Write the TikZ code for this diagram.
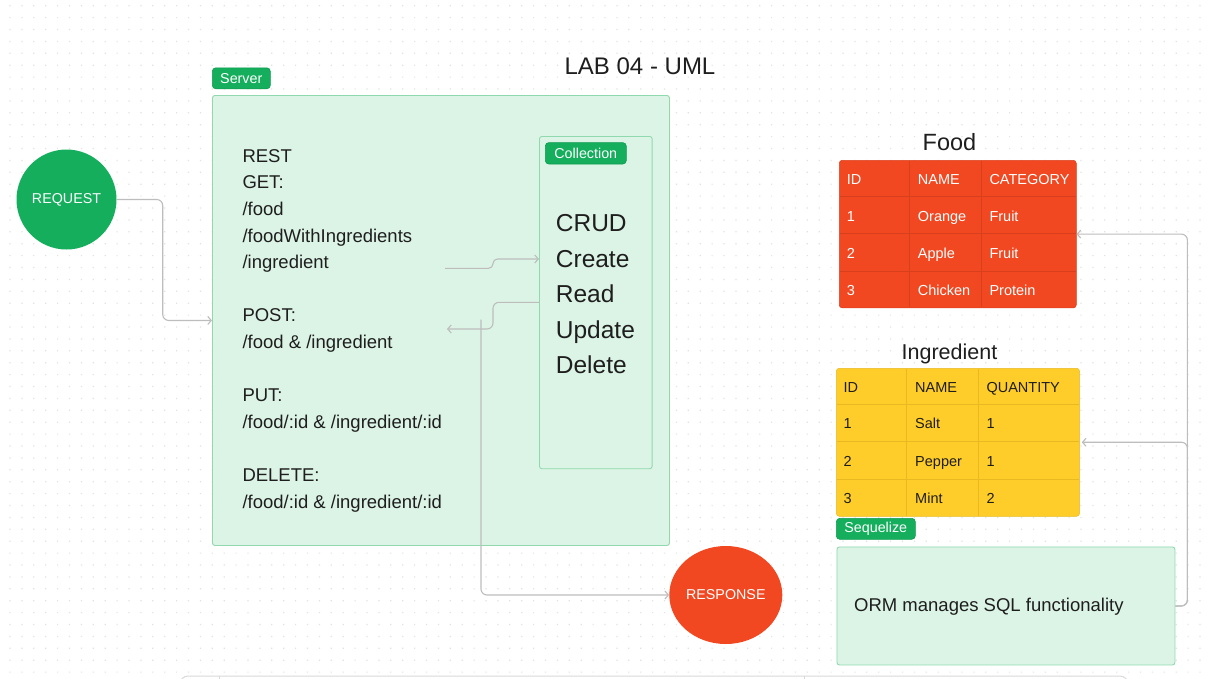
\documentclass[tikz,border=0pt]{standalone}
\usepackage{fontspec}
\setmainfont{Liberation Sans}
\usetikzlibrary{arrows.meta,calc,shapes.geometric}
\definecolor{tagGreen}{HTML}{14AE5C}
\definecolor{tagEdge}{HTML}{109A50}
\definecolor{mint}{HTML}{DCF4E6}
\definecolor{mintBorder}{HTML}{90D8AE}
\definecolor{redFill}{HTML}{F24822}
\definecolor{redLine}{HTML}{D83F1D}
\definecolor{yellowFill}{HTML}{FFCD29}
\definecolor{yellowLine}{HTML}{E9B922}
\definecolor{connGrey}{HTML}{BDBDBD}
\definecolor{ink}{HTML}{1E1E1E}
\definecolor{dotGrey}{HTML}{E2E2E2}
\definecolor{frameGrey}{HTML}{DADADA}
\begin{document}
\begin{tikzpicture}[x=1pt,y=-1pt,
  tag/.style={fill=tagGreen, draw=tagEdge, line width=0.6pt, rounded corners=3.5pt, text=white,
    font=\fontsize{14.3}{14.3}\selectfont, inner sep=0pt, anchor=north west},
  panel/.style={fill=mint, draw=mintBorder, line width=0.9pt, rounded corners=2.5pt, inner sep=0pt, anchor=north west},
  txt/.style={font=\fontsize{18.5}{18.5}\selectfont, text=ink, inner sep=0pt, anchor=base west},
  crud/.style={font=\fontsize{24.5}{24.5}\selectfont, text=ink, inner sep=0pt, anchor=base west},
  cellw/.style={font=\fontsize{14.5}{14.5}\selectfont, text=white, inner sep=0pt, anchor=base west},
  celld/.style={font=\fontsize{14.5}{14.5}\selectfont, text=ink, inner sep=0pt, anchor=base west},
  conn/.style={draw=connGrey, line width=1.1pt, rounded corners=6pt},
  arr/.style={-{Straight Barb[length=3.5pt,width=8pt]}},
  bubble/.style={fill, text=white, font=\fontsize{14.3}{14.3}\selectfont, inner sep=0pt}
]
\useasboundingbox (0,0) rectangle (1210,678);
\clip (0,0) rectangle (1210,678);
\fill[white] (0,0) rectangle (1210,678);
% dot grid
\foreach \j in {0,...,56} {
  \fill[dotGrey] \foreach \i in {0,...,101} { (9.4+11.9*\i,5.1+11.9*\j) rectangle ++(1.2,1.2) };
}

% bottom partial frame
\draw[frameGrey, line width=1pt, fill=white, rounded corners=8pt] (180,676) rectangle (1128,720);
\draw[frameGrey, line width=0.8pt] (219,676) -- (219,690);
\draw[frameGrey, line width=0.8pt] (804,676) -- (804,690);

% title
\node[font=\fontsize{24}{24}\selectfont, text=ink, inner sep=0pt, anchor=base] (title) at (640,74.5) {LAB 04 - UML};

% server
\node[panel, minimum width=457pt, minimum height=450pt] (server) at (212,95) {};
\node[tag, minimum width=58pt, minimum height=21pt] (servertag) at (212,67.5) {Server};

\node[txt] (l1) at (242.3,162) {REST};
\node[txt] (l2) at (242.3,188.7) {GET:};
\node[txt] (l3) at (242.3,215.3) {/food};
\node[txt] (l4) at (242.3,242) {/foodWithIngredients};
\node[txt] (l5) at (242.3,268.6) {/ingredient};
\node[txt] (l6) at (242.3,321.9) {POST:};
\node[txt] (l7) at (242.3,348.6) {/food \& /ingredient};
\node[txt] (l8) at (242.3,401.9) {PUT:};
\node[txt] (l9) at (242.3,428.5) {/food/:id \& /ingredient/:id};
\node[txt] (l10) at (242.3,481.8) {DELETE:};
\node[txt] (l11) at (242.3,508.5) {/food/:id \& /ingredient/:id};

% collection
\node[panel, minimum width=112.7pt, minimum height=332.3pt] (coll) at (539,136) {};
\node[tag, minimum width=81pt, minimum height=21.4pt] (colltag) at (545,142.3) {Collection};
\node[crud] (c1) at (555.7,231.3) {CRUD};
\node[crud] (c2) at (555.7,267) {Create};
\node[crud] (c3) at (555.7,302.5) {Read};
\node[crud] (c4) at (555.7,338) {Update};
\node[crud] (c5) at (555.7,373.5) {Delete};

% request / response
\node[bubble, circle, fill=tagGreen, minimum size=100pt] (req) at (66.5,199.5) {REQUEST};
\node[bubble, ellipse, fill=redFill, minimum width=113pt, minimum height=98pt] (resp) at (725.8,595) {RESPONSE};

% food table
\node[font=\fontsize{23.5}{23.5}\selectfont, text=ink, inner sep=0pt, anchor=base] (foodtitle) at (949.5,150.4) {Food};
\node[fill=redFill, draw=redLine, line width=0.5pt, rounded corners=3pt, inner sep=0pt, anchor=north west,
      minimum width=237pt, minimum height=147.7pt] (foodtab) at (839,160) {};
\draw[redLine, line width=0.8pt] (909.3,160.5) -- (909.3,307.2) (981.3,160.5) -- (981.3,307.2)
  (839.5,196.7) -- (1075.5,196.7) (839.5,233.7) -- (1075.5,233.7) (839.5,271.3) -- (1075.5,271.3);
\node[cellw] (f11) at (846.7,184) {ID};
\node[cellw] (f12) at (917.7,184) {NAME};
\node[cellw] (f13) at (989.3,184) {CATEGORY};
\node[cellw] (f21) at (846.7,221) {1};
\node[cellw] (f22) at (917.7,221) {Orange};
\node[cellw] (f23) at (989.3,221) {Fruit};
\node[cellw] (f31) at (846.7,258.2) {2};
\node[cellw] (f32) at (917.7,258.2) {Apple};
\node[cellw] (f33) at (989.3,258.2) {Fruit};
\node[cellw] (f41) at (846.7,295.2) {3};
\node[cellw] (f42) at (917.7,295.2) {Chicken};
\node[cellw] (f43) at (989.3,295.2) {Protein};

% ingredient table
\node[font=\fontsize{21.5}{21.5}\selectfont, text=ink, inner sep=0pt, anchor=base] (ingtitle) at (949.5,359.7) {Ingredient};
\node[fill=yellowFill, draw=yellowLine, line width=0.5pt, rounded corners=3pt, inner sep=0pt, anchor=north west,
      minimum width=243.3pt, minimum height=148pt] (ingtab) at (836,368) {};
\draw[yellowLine, line width=0.8pt] (906.7,368.5) -- (906.7,515.5) (978.7,368.5) -- (978.7,515.5)
  (836.5,404.3) -- (1078.8,404.3) (836.5,441.7) -- (1078.8,441.7) (836.5,479.3) -- (1078.8,479.3);
\node[celld] (g11) at (843.3,392) {ID};
\node[celld] (g12) at (915,392) {NAME};
\node[celld] (g13) at (986.3,392) {QUANTITY};
\node[celld] (g21) at (843.3,428.5) {1};
\node[celld] (g22) at (915,428.5) {Salt};
\node[celld] (g23) at (986.3,428.5) {1};
\node[celld] (g31) at (843.3,466) {2};
\node[celld] (g32) at (915,466) {Pepper};
\node[celld] (g33) at (986.3,466) {1};
\node[celld] (g41) at (843.3,503) {3};
\node[celld] (g42) at (915,503) {Mint};
\node[celld] (g43) at (986.3,503) {2};

% sequelize
\node[tag, minimum width=79pt, minimum height=21pt] (seqtag) at (836,518) {Sequelize};
\node[panel, minimum width=338pt, minimum height=118pt] (seq) at (836.5,546.5) {};
\node[txt] (orm) at (854,611.5) {ORM manages SQL functionality};

% connectors
\coordinate (getout) at (445,268.3);
\coordinate (readout) at (539,302.3);
\coordinate (postin) at (447,329);
\coordinate (respstart) at (481,319.5);

\draw[conn, arr] (req.east) -- ++(46,0) |- (server.west);
\draw[conn, arr, rounded corners=4.5pt] (getout) -- (493,268.3) |- (coll.west |- 0,259);
\draw[conn, arr] (readout) -- (493,302.3) |- (postin);
\draw[conn, arr] (respstart) |- (resp.west);
\draw[conn, arr] (seq.east) -- ++(12,0) |- (foodtab.east);
\draw[conn, arr] (seq.east) -- ++(12,0) |- ([xshift=2pt]ingtab.east);
\end{tikzpicture}
\end{document}
